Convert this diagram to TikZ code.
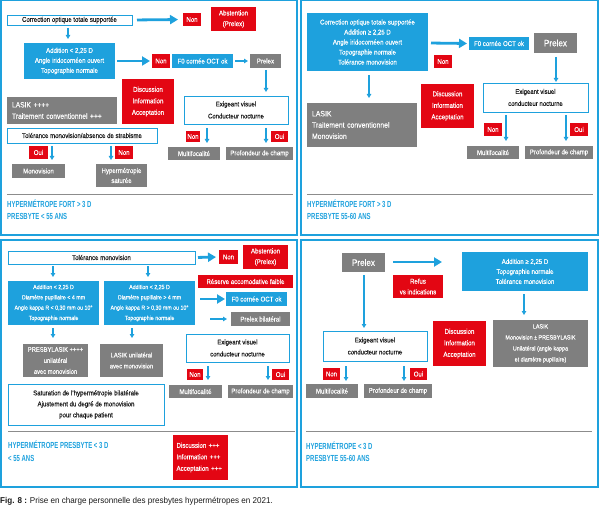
\documentclass[tikz,border=0pt]{standalone}
\usepackage{fontspec}
\setmainfont{Liberation Sans}[FakeStretch=0.88,FakeBold=0.25]
\newfontfamily\capfont{Liberation Sans}[FakeStretch=0.95]
\newfontfamily\headfont{Liberation Sans}[FakeStretch=0.68]
\usetikzlibrary{arrows.meta}
\definecolor{cblue}{HTML}{1EA1DD}
\definecolor{cred}{HTML}{E30613}
\definecolor{cgrey}{HTML}{7F7F7F}
\definecolor{cline}{HTML}{8C8C8C}
\definecolor{ctext}{HTML}{1A1A1A}
\newcommand\fs[2]{\fontsize{#1}{#2}\selectfont}
\newcommand\mkbox[7]{\node[#6, minimum width={(#4)-(#2)}, minimum height={(#5)-(#3)}] (#1) at ({((#2)+(#4))/2},{((#3)+(#5))/2}) {#7};}
\tikzset{
 base/.style={inner sep=0pt, outer sep=0pt, align=center, font=\fs{6.9}{10}},
 bbox/.style={base, fill=cblue, text=white},
 rbox/.style={base, fill=cred, text=white},
 gbox/.style={base, fill=cgrey, text=white},
 wbox/.style={base, draw=cblue, line width=0.8pt, fill=white, text=ctext},
 frame/.style={draw=cblue, line width=1.5pt},
 sepline/.style={draw=cline, line width=0.9pt},
 bigarrow/.style={draw=cblue, line width=2.8pt, -{Triangle[length=8pt,width=9pt]}},
 smallarrow/.style={draw=cblue, line width=1.1pt, -{Triangle[length=4pt,width=4.5pt]}},
 head/.style={anchor=west, inner sep=0pt, text=cblue, font=\headfont\bfseries\fs{8.8}{9}},
}
\begin{document}
\begin{tikzpicture}[x=1pt,y=-1pt]
\useasboundingbox (0,0) rectangle (600,508);
% frames
\draw[frame] (0.75,0.75) rectangle (297,235);
\draw[frame] (301,0.75) rectangle (598,235);
\draw[frame] (0.75,240) rectangle (297,487);
\draw[frame] (301,240) rectangle (598,487);

% ===== Top left =====
\mkbox{corr1}{7}{15}{132}{25}{wbox}{Correction optique totale supportée}
\mkbox{nonA}{183}{13}{201}{26}{rbox}{Non}
\mkbox{abst1}{211}{7}{256}{31}{rbox, font=\fs{7}{10.7}}{Abstention\\(Prelex)}
\mkbox{add1}{24}{43}{115}{79}{bbox}{Addition < 2,25 D\\Angle iridocornéen ouvert\\Topographie normale}
\mkbox{nonB}{152}{54}{170}{68}{rbox}{Non}
\mkbox{fo1}{172}{54}{233}{68}{bbox}{F0 cornée OCT ok}
\mkbox{prelex1}{250}{54}{281}{68}{gbox}{Prelex}
\mkbox{exig1}{184}{96}{288}{124}{wbox, font=\fs{6.8}{12}}{Exigeant visuel\\Conducteur nocturne}
\mkbox{nonC1}{186}{131}{200}{142}{rbox}{Non}
\mkbox{ouiC1}{271}{131}{288}{142}{rbox}{Oui}
\mkbox{multi1}{168}{147}{220}{160}{gbox}{Multifocalité}
\mkbox{prof1}{226}{147}{293}{160}{gbox}{Profondeur de champ}
\mkbox{disc1}{122}{79}{174}{124}{rbox, font=\fs{7}{11.5}}{Discussion\\Information\\Acceptation}
\mkbox{lasik1}{7}{97}{117}{124}{gbox, font=\fs{7.6}{11.3}, align=left, text width=100pt}{LASIK ++++\\Traitement conventionnel +++}
\mkbox{tol1}{7}{128}{157}{143}{wbox}{Tolérance monovision/absence de strabisme}
\mkbox{oui1}{29}{146}{48}{159}{rbox}{Oui}
\mkbox{non1}{115}{146}{133}{159}{rbox}{Non}
\mkbox{mono1}{12}{164}{65}{178}{gbox}{Monovision}
\mkbox{hyp1}{96}{164}{147}{187}{gbox, font=\fs{6.9}{10}}{Hypermétropie\\saturée}
\draw[sepline] (7,194) -- (293,194);
\node[head] (h1a) at (7,204) {HYPERMÉTROPE FORT > 3 D};
\node[head] (h1b) at (7,216) {PRESBYTE < 55 ANS};
\draw[bigarrow, shorten <=5pt, shorten >=5pt] (corr1.east) -- (nonA.west);
\draw[smallarrow, shorten <=3pt, shorten >=4pt] (corr1.south -| 68,0) -- (add1.north -| 68,0);
\draw[bigarrow, shorten <=2pt, shorten >=2pt] (add1.east) -- (nonB.west);
\draw[smallarrow, shorten <=2pt, shorten >=2pt] (fo1.east) -- (prelex1.west);
\draw[smallarrow, shorten <=2pt, shorten >=4pt] (prelex1.south -| 266,0) -- (exig1.north -| 266,0);
\draw[smallarrow, shorten <=4pt, shorten >=4pt] (exig1.south -| 207,0) -- (multi1.north -| 207,0);
\draw[smallarrow, shorten <=4pt, shorten >=4pt] (exig1.south -| 266,0) -- (prof1.north -| 266,0);
\draw[smallarrow, shorten <=3pt, shorten >=4pt] (tol1.south -| 52,0) -- (mono1.north -| 52,0);
\draw[smallarrow, shorten <=3pt, shorten >=4pt] (tol1.south -| 111,0) -- (hyp1.north -| 111,0);

% ===== Top right =====
\mkbox{corr2}{307}{13}{428}{71}{bbox}{Correction optique totale supportée\\Addition ≥ 2,25 D\\Angle iridocornéen ouvert\\Topographie normale\\Tolérance monovision}
\mkbox{non2}{434}{55}{452}{68}{rbox}{Non}
\mkbox{fo2}{469}{37}{529}{50}{bbox}{F0 cornée OCT ok}
\mkbox{prelex2}{534}{33}{577}{53}{gbox, font=\fs{9.2}{12}}{Prelex}
\mkbox{exig2}{483}{83}{588}{112}{wbox, font=\fs{6.8}{12}}{Exigeant visuel\\conducteur nocturne}
\mkbox{nonC2}{484}{123}{502}{136}{rbox}{Non}
\mkbox{ouiC2}{570}{123}{588}{136}{rbox}{Oui}
\mkbox{multi2}{467}{146}{519}{159}{gbox}{Multifocalité}
\mkbox{prof2}{525}{146}{593}{159}{gbox}{Profondeur de champ}
\mkbox{lasik2}{307}{103}{417}{147}{gbox, font=\fs{7.8}{11.3}, align=left, text width=100pt}{LASIK\\Traitement conventionnel\\Monovision}
\mkbox{disc2}{421}{84}{474}{128}{rbox, font=\fs{7}{11.5}}{Discussion\\Information\\Acceptation}
\draw[sepline] (307,194) -- (593,194);
\node[head] (h2a) at (307,204) {HYPERMÉTROPE FORT > 3 D};
\node[head] (h2b) at (307,216) {PRESBYTE 55-60 ANS};
\draw[bigarrow, shorten <=3pt, shorten >=2pt] (corr2.east |- 0,43) -- (fo2.west);
\draw[smallarrow, shorten <=4pt, shorten >=1pt] (prelex2.south -| 556,0) -- (exig2.north -| 556,0);
\draw[smallarrow, shorten <=3pt, shorten >=5pt] (exig2.south -| 506,0) -- (multi2.north -| 506,0);
\draw[smallarrow, shorten <=3pt, shorten >=5pt] (exig2.south -| 566,0) -- (prof2.north -| 566,0);
\draw[smallarrow, shorten <=4pt, shorten >=5pt] (corr2.south -| 369,0) -- (lasik2.north -| 369,0);

% ===== Bottom left =====
\mkbox{tol3}{8}{251}{195}{264}{wbox}{Tolérance monovision}
\mkbox{non3}{219}{250}{238}{264}{rbox}{Non}
\mkbox{abst3}{243}{245}{288}{269}{rbox, font=\fs{7}{10.7}}{Abstention\\(Prelex)}
\mkbox{addL}{8}{281}{99}{325}{bbox, font=\fs{6}{10.3}}{Addition < 2,25 D\\Diamètre pupillaire < 4 mm\\Angle kappa R < 0,30 mm ou 10°\\Topographie normale}
\mkbox{addR}{104}{281}{195}{325}{bbox, font=\fs{6}{10.3}}{Addition < 2,25 D\\Diamètre pupillaire > 4 mm\\Angle kappa R > 0,30 mm ou 10°\\Topographie normale}
\mkbox{res3}{198}{275}{293}{288}{rbox}{Réserve accomodative faible}
\mkbox{fo3}{226}{292}{287}{306}{bbox}{F0 cornée OCT ok}
\mkbox{prel3}{231}{312}{290}{326}{gbox}{Prelex bilatéral}
\mkbox{presby3}{23}{344}{88}{377}{gbox, font=\fs{6.6}{11}}{PRESBYLASIK ++++\\unilatéral\\avec monovision}
\mkbox{lasik3}{100}{344}{163}{377}{gbox, font=\fs{6.6}{11}}{LASIK unilatéral\\avec monovision}
\mkbox{exig3}{186}{334}{289}{362}{wbox, font=\fs{6.8}{12}}{Exigeant visuel\\conducteur nocturne}
\mkbox{nonC3}{187}{369}{203}{380}{rbox}{Non}
\mkbox{ouiC3}{272}{369}{289}{380}{rbox}{Oui}
\mkbox{multi3}{169}{385}{222}{398}{gbox}{Multifocalité}
\mkbox{prof3}{228}{385}{293}{398}{gbox}{Profondeur de champ}
\mkbox{sat3}{8}{384}{164}{425}{wbox, font=\fs{6.9}{11}}{Saturation de l'hypermétropie bilatérale\\Ajustement du degré de monovision\\pour chaque patient}
\draw[sepline] (8,431) -- (295,431);
\node[head] (h3a) at (8,445) {HYPERMÉTROPE PRESBYTE < 3 D};
\node[head] (h3b) at (8,458) {< 55 ANS};
\mkbox{disc3}{173}{435}{228}{480}{rbox, font=\fs{7}{11.5}, align=left, text width=48pt}{Discussion +++\\Information +++\\Acceptation +++}
\draw[bigarrow, shorten <=3pt, shorten >=3pt] (tol3.east) -- (non3.west);
\draw[smallarrow, shorten <=2pt, shorten >=4pt] (tol3.south -| 53,0) -- (addL.north -| 53,0);
\draw[smallarrow, shorten <=2pt, shorten >=4pt] (tol3.south -| 148,0) -- (addR.north -| 148,0);
\draw[bigarrow, shorten <=5pt, shorten >=1pt] (addR.east |- 0,299) -- (fo3.west);
\draw[smallarrow, shorten <=15pt, shorten >=4pt] (addR.east |- 0,319) -- (prel3.west);
\draw[smallarrow, shorten <=3pt, shorten >=6pt] (addL.south -| 53,0) -- (presby3.north -| 53,0);
\draw[smallarrow, shorten <=3pt, shorten >=6pt] (addR.south -| 132,0) -- (lasik3.north -| 132,0);
\draw[smallarrow, shorten <=4pt, shorten >=5pt] (exig3.south -| 208,0) -- (multi3.north -| 208,0);
\draw[smallarrow, shorten <=4pt, shorten >=5pt] (exig3.south -| 268,0) -- (prof3.north -| 268,0);

% ===== Bottom right =====
\mkbox{prelex4}{342}{253}{385}{272}{gbox, font=\fs{9.2}{12}}{Prelex}
\mkbox{refus4}{393}{275}{443}{298}{rbox, font=\fs{6.9}{10.7}}{Refus\\vs indications}
\mkbox{add4}{462}{252}{588}{291}{bbox}{Addition ≥ 2,25 D\\Topographie normale\\Tolérance monovision}
\mkbox{lasik4}{493}{320}{588}{367}{gbox, font=\fs{6.1}{11}}{LASIK\\Monovision ± PRESBYLASIK\\Unilatéral (angle kappa\\et diamètre pupillaire)}
\mkbox{disc4}{433}{321}{486}{366}{rbox, font=\fs{7}{11.5}}{Discussion\\Information\\Acceptation}
\mkbox{exig4}{323}{331}{427}{361}{wbox, font=\fs{6.8}{12}}{Exigeant visuel\\conducteur nocturne}
\mkbox{nonC4}{323}{368}{340}{380}{rbox}{Non}
\mkbox{ouiC4}{410}{368}{427}{380}{rbox}{Oui}
\mkbox{multi4}{306}{384}{358}{398}{gbox}{Multifocalité}
\mkbox{prof4}{364}{384}{432}{398}{gbox}{Profondeur de champ}
\draw[sepline] (306,431) -- (592,431);
\node[head] (h4a) at (306,446) {HYPERMÉTROPE < 3 D};
\node[head] (h4b) at (306,458) {PRESBYTE 55-60 ANS};
\draw[bigarrow, shorten <=8pt, shorten >=20pt] (prelex4.east |- 0,262) -- (add4.west |- 0,262);
\draw[smallarrow, shorten <=3pt, shorten >=5pt] (add4.south -| 524,0) -- (lasik4.north -| 524,0);
\draw[smallarrow, shorten <=3pt, shorten >=3pt] (prelex4.south -| 364,0) -- (exig4.north -| 364,0);
\draw[smallarrow, shorten <=5pt, shorten >=3pt] (exig4.south -| 346,0) -- (multi4.north -| 346,0);
\draw[smallarrow, shorten <=5pt, shorten >=3pt] (exig4.south -| 404,0) -- (prof4.north -| 404,0);

% caption
\node[anchor=west, inner sep=0pt, text=ctext, font=\capfont\fs{8.5}{10}] (cap) at (0,501) {\textbf{Fig. 8 :} Prise en charge personnelle des presbytes hypermétropes en 2021.};
\end{tikzpicture}
\end{document}
